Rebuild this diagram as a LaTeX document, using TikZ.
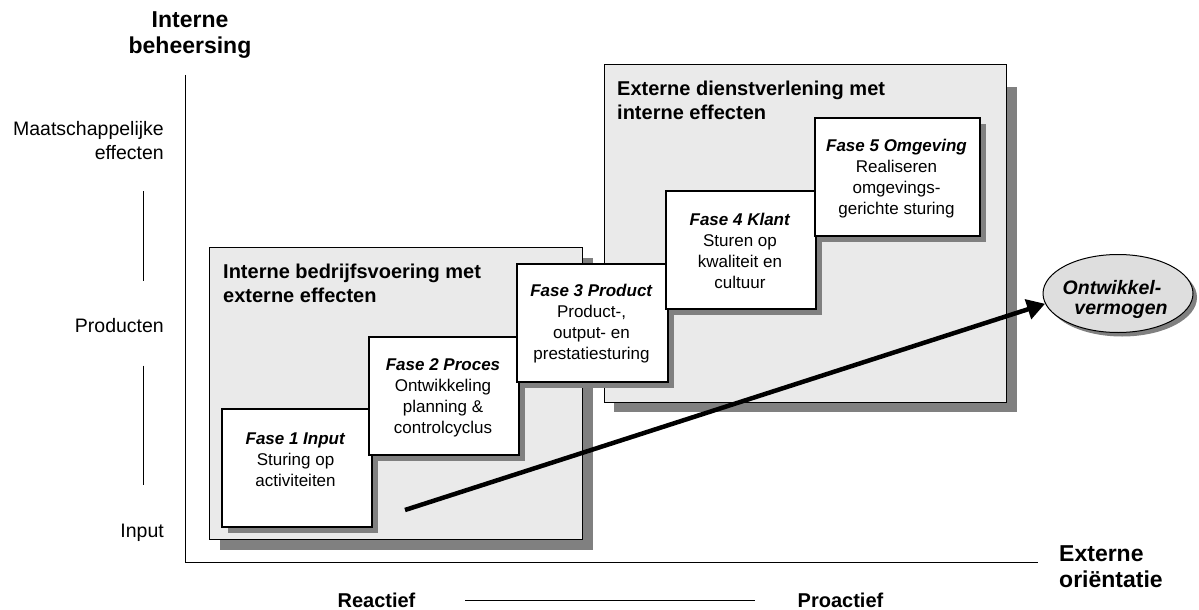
\documentclass[tikz,border=0pt]{standalone}
\usepackage{fontspec}
\setmainfont{Liberation Sans}
\usetikzlibrary{shapes.geometric, arrows.meta, shadows}
\definecolor{boxgray}{RGB}{234,234,234}
\definecolor{ellgray}{RGB}{222,222,222}
\definecolor{shadowgray}{RGB}{128,128,128}
\begin{document}
\begin{tikzpicture}[x=1pt,y=-1pt,
  bigboxplain/.style={draw=black, line width=1.2pt, fill=boxgray, inner sep=0pt, anchor=north west},
  bigbox/.style={bigboxplain,
    drop shadow={shadow xshift=10pt, shadow yshift=-10pt, fill=shadowgray, opacity=1}},
  phasebox/.style={draw=black, line width=1.5pt, fill=white, inner sep=0pt, anchor=north west,
    minimum height=118pt,
    drop shadow={shadow xshift=6pt, shadow yshift=-6pt, fill=shadowgray, opacity=1}},
  phasetext/.style={align=center, anchor=base, inner sep=0pt, font=\fontsize{17}{21}\selectfont},
  boxtitle/.style={align=left, anchor=base west, inner sep=0pt, font=\fontsize{20}{24.5}\selectfont\bfseries},
  axtitle/.style={inner sep=0pt, font=\fontsize{23}{26}\selectfont\bfseries},
  lvl/.style={align=right, anchor=base east, inner sep=0pt, font=\fontsize{19.5}{24}\selectfont},
  pole/.style={anchor=base, inner sep=0pt, font=\fontsize{20}{24}\selectfont\bfseries},
  axisline/.style={line width=1pt},
  bigarrow/.style={line width=4.5pt, -{Triangle[length=18pt,width=20pt]}}
]
\useasboundingbox (0,0) rectangle (1199,610);

% axes
\coordinate (ytop) at (185,75);
\coordinate (orig) at (185,562);
\coordinate (xend) at (1038,562);
\draw[axisline] (ytop) -- (orig) -- (xend);

% axis titles (anchor = baseline of last line)
\node[axtitle, align=center, anchor=base] (ytitle) at (190,53.6) {Interne\\beheersing};
\node[axtitle, align=left, anchor=base west] (xtitle) at (1059,587) {Externe\\oriëntatie};

% level labels
\node[lvl] (lmaat) at (164,159) {Maatschappelijke\\effecten};
\node[lvl] (lprod) at (164,332) {Producten};
\node[lvl] (linput) at (164,537) {Input};
\coordinate (t1a) at (143,191);
\coordinate (t1b) at (143,281);
\coordinate (t2a) at (143,365.5);
\coordinate (t2b) at (143,485);
\draw[axisline] (t1a) -- (t1b);
\draw[axisline] (t2a) -- (t2b);

% poles
\node[pole] (react) at (376.5,607) {Reactief};
\node[pole] (proact) at (840.5,607) {Proactief};
\coordinate (pa) at (465,600);
\coordinate (pb) at (755,600);
\draw[axisline] (pa) -- (pb);

% big boxes
\node[bigbox, minimum width=373pt, minimum height=292pt] (b1) at (209,247) {};
\fill[shadowgray] (614,87) rectangle (1017,412);
\node[bigboxplain, minimum width=402pt, minimum height=338pt] (b2) at (604,64) {};
\node[boxtitle] (b1t) at (223,302.5) {Interne bedrijfsvoering met\\externe effecten};
\node[boxtitle] (b2t) at (617,119.5) {Externe dienstverlening met\\interne effecten};

% phase boxes
\node[phasebox, minimum width=150pt] (f1) at (221,408) {};
\node[phasebox, minimum width=150pt] (f2) at (368,336) {};
\node[phasebox, minimum width=151pt] (f3) at (516,263) {};
\node[phasebox, minimum width=150pt] (f4) at (665,190) {};
\node[phasebox, minimum width=165pt] (f5) at (814,117) {};

\node[phasetext] (f1t) at (295.5,486) {\textbf{\textit{Fase 1 Input}}\\Sturing op\\activiteiten};
\node[phasetext] (f2t) at (443,433) {\textbf{\textit{Fase 2 Proces}}\\Ontwikkeling\\planning \&\\controlcyclus};
\node[phasetext] (f3t) at (591.5,359) {\textbf{\textit{Fase 3 Product}}\\Product-,\\output- en\\prestatiesturing};
\node[phasetext] (f4t) at (740,288) {\textbf{\textit{Fase 4 Klant}}\\Sturen op\\kwaliteit en\\cultuur};
\node[phasetext] (f5t) at (896.5,214) {\textbf{\textit{Fase 5 Omgeving}}\\Realiseren\\omgevings-\\gerichte sturing};

% ellipse
\node[ellipse, draw=black, line width=1pt, fill=ellgray, minimum width=150pt, minimum height=78pt, inner sep=0pt,
  drop shadow={shadow xshift=4pt, shadow yshift=-4pt, fill=shadowgray, opacity=1}] (ell) at (1118,293.5) {};
\node[align=center, anchor=base, inner sep=0pt, font=\fontsize{19.5}{20}\selectfont\bfseries\itshape] (ellt) at (1121,314) {Ontwikkel-\hspace*{18pt}\\vermogen};

% arrow
\coordinate (astart) at (405,510);
\draw[bigarrow] (astart) -- (ell.188);
\end{tikzpicture}
\end{document}
